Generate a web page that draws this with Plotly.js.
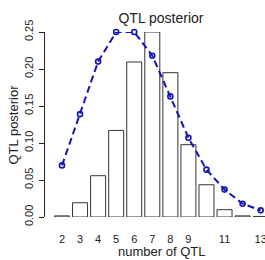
<!DOCTYPE html>
<html>
<head>
<meta charset="utf-8">
<script src="https://cdn.plot.ly/plotly-3.0.1.min.js"></script>
<style>html,body{margin:0;padding:0;background:#fff;}#chart{width:265px;height:260px;}</style>
</head>
<body>
<div id="chart"></div>
<script>
var numQTL = [2, 3, 4, 5, 6, 7, 8, 9, 10, 11, 12, 13];
var posterior = [0.0015, 0.0193, 0.0558, 0.117, 0.2095, 0.25, 0.195, 0.0977, 0.0436, 0.0099, 0.0015, 0.0005];
var prior = [0.0697, 0.139, 0.210, 0.25, 0.25, 0.218, 0.163, 0.107, 0.064, 0.037, 0.018, 0.009];
var xTickVals = [2, 3, 4, 5, 6, 7, 8, 9, 11, 13];
var yTickVals = [0, 0.05, 0.10, 0.15, 0.20, 0.25];
var yTickText = ["0.00", "0.05", "0.10", "0.15", "0.20", "0.25"];

var font = "Liberation Sans, Arial, sans-serif";
var data = [
  {
    type: "bar", x: numQTL, y: posterior, width: 0.83,
    marker: {color: "#ffffff", line: {color: "#333333", width: 1}},
    hoverinfo: "skip"
  },
  {
    type: "scatter", mode: "lines+markers", x: numQTL, y: prior,
    cliponaxis: false,
    line: {color: "#1414b8", width: 2, dash: "7px,4px"},
    marker: {symbol: "circle-open", size: 5, color: "#1414b8", line: {width: 1.6, color: "#1414b8"}},
    hoverinfo: "skip"
  }
];

var layout = {
  width: 265, height: 260,
  margin: {l: 45, r: 0, t: 32, b: 43, pad: 0},
  paper_bgcolor: "#ffffff", plot_bgcolor: "#ffffff",
  showlegend: false,
  font: {family: font, color: "#222222", size: 11},
  title: {text: "QTL posterior", x: 0.6075, xref: "container", xanchor: "center",
          y: 1 - 18 / 260, yref: "container", yanchor: "middle",
          font: {family: font, size: 14, color: "#222222"}},
  xaxis: {
    range: [1.059, 13.24], showgrid: false, zeroline: false, showline: false,
    tickmode: "array", tickvals: xTickVals, ticktext: xTickVals.map(String),
    ticks: "outside", ticklen: 12, tickcolor: "rgba(0,0,0,0)",
    ticklabeloverflow: "allow",
    tickfont: {family: font, size: 11, color: "#222222"}
  },
  yaxis: {
    range: [0, 0.25], showgrid: false, zeroline: false,
    showline: true, linecolor: "#222222", linewidth: 1,
    tickmode: "array", tickvals: yTickVals, ticktext: yTickText,
    ticks: "outside", ticklen: 5, tickcolor: "#222222", tickwidth: 1,
    tickangle: -90, tickfont: {family: font, size: 11, color: "#222222"},
    ticklabelstandoff: 2
  },
  annotations: [
    {text: "number of QTL", xref: "paper", yref: "paper", x: (161 - 45) / 220, y: -(251.5 - 217) / 185,
     xanchor: "center", yanchor: "middle", showarrow: false,
     font: {family: font, size: 13, color: "#222222"}},
    {text: "QTL posterior", xref: "paper", yref: "paper", x: (13 - 45) / 220, y: 0.5,
     xanchor: "center", yanchor: "middle", textangle: -90, showarrow: false,
     font: {family: font, size: 13, color: "#222222"}}
  ]
};

Plotly.newPlot("chart", data, layout, {displayModeBar: false, staticPlot: true});
</script>
</body>
</html>
